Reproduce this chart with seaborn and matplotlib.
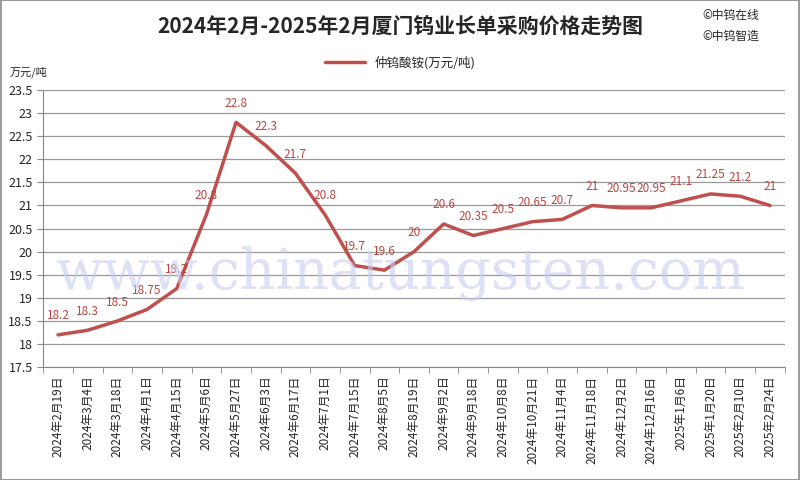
import matplotlib
matplotlib.use("Agg")
import matplotlib.pyplot as plt
import seaborn as sns
import pandas as pd
import numpy as np

# ==========================================
# DATA
# ==========================================

dates = ["2024年2月19日", "2024年3月4日", "2024年3月18日", "2024年4月1日",
         "2024年4月15日", "2024年5月6日", "2024年5月27日", "2024年6月3日",
         "2024年6月17日", "2024年7月1日", "2024年7月15日", "2024年8月5日",
         "2024年8月19日", "2024年9月2日", "2024年9月18日", "2024年10月8日",
         "2024年10月21日", "2024年11月4日", "2024年11月18日", "2024年12月2日",
         "2024年12月16日", "2025年1月6日", "2025年1月20日", "2025年2月10日",
         "2025年2月24日"]
prices = [18.2, 18.3, 18.5, 18.75, 19.2, 20.8, 22.8, 22.3, 21.7, 20.8,
          19.7, 19.6, 20, 20.6, 20.35, 20.5, 20.65, 20.7, 21, 20.95,
          20.95, 21.1, 21.25, 21.2, 21]
price_labels = ["18.2", "18.3", "18.5", "18.75", "19.2", "20.8", "22.8", "22.3",
                "21.7", "20.8", "19.7", "19.6", "20", "20.6", "20.35", "20.5",
                "20.65", "20.7", "21", "20.95", "20.95", "21.1", "21.25", "21.2", "21"]
yticks = [17.5, 18, 18.5, 19, 19.5, 20, 20.5, 21, 21.5, 22, 22.5, 23, 23.5]
ytick_labels = ["17.5", "18", "18.5", "19", "19.5", "20", "20.5", "21", "21.5",
                "22", "22.5", "23", "23.5"]
series_name = "仲钨酸铵(万元/吨)"

data = pd.DataFrame({"date": dates, "price": prices})
data["pos"] = range(len(dates))

# ==========================================
# STYLE
# ==========================================

sns.set_style("white")
plt.rcParams['font.family'] = ['Noto Sans CJK SC', 'DejaVu Sans']

line_color = "#C0504D"
label_color = "#B8463F"

fig = plt.figure(figsize=(8, 4.8), dpi=100)
ax = fig.add_axes([0.054, 0.235, 0.927, 0.5775])

# watermark
fig.text(0.5, 0.43, "www.chinatungsten.com", fontsize=40, color="#C8CCF0",
         ha="center", va="center", family="DejaVu Serif", alpha=0.6, zorder=0)

sns.lineplot(data=data, x="pos", y="price", ax=ax, color=line_color,
             linewidth=2.5, label=series_name, legend=False)

for x, y, t in zip(data["pos"], data["price"], price_labels):
    ax.annotate(t, (x, y), xytext=(0, 9), textcoords="offset points",
                ha="center", va="bottom", fontsize=8.5, color=label_color)

ax.set_xlim(-0.5, len(dates) - 0.5)
ax.set_ylim(17.5, 23.5)
ax.set_yticks(yticks)
ax.set_yticklabels(ytick_labels, fontsize=9)
ax.set_xticks(np.arange(len(dates)))
ax.set_xticklabels(dates, rotation=90, fontsize=8.5)
ax.tick_params(axis="x", length=0, pad=6)
ax.tick_params(axis="y", length=4, color="#888888", direction="out", left=True)
ax.set_xlabel("")
ax.set_ylabel("")

# category boundary ticks
ax.set_xticks(np.arange(len(dates) + 1) - 0.5, minor=True)
ax.tick_params(axis="x", which="minor", length=4, color="#888888", bottom=True)

ax.grid(axis="y", color="#999999", linewidth=0.9)
ax.set_axisbelow(True)
for s in ["top", "right"]:
    ax.spines[s].set_visible(False)
ax.spines["left"].set_color("#888888")
ax.spines["bottom"].set_color("#888888")

# ==========================================
# TEXTS
# ==========================================

fig.text(0.5, 0.945, "2024年2月-2025年2月厦门钨业长单采购价格走势图",
         ha="center", va="center", fontsize=15, fontweight="bold")
fig.text(0.012, 0.85, "万元/吨", fontsize=8, ha="left", va="center")
fig.text(0.878, 0.967, "©中钨在线", fontsize=8.5, ha="left", va="center")
fig.text(0.878, 0.925, "©中钨智造", fontsize=8.5, ha="left", va="center")

fig.legend(loc="center", bbox_to_anchor=(0.5, 0.87), frameon=False,
           fontsize=9, handlelength=3.2)

# image border
fig.patches.append(plt.Rectangle((0.001, 0.001), 0.998, 0.998, transform=fig.transFigure,
                                 fill=False, edgecolor="#888888", linewidth=1.2))

plt.savefig("out.png", dpi=100)
